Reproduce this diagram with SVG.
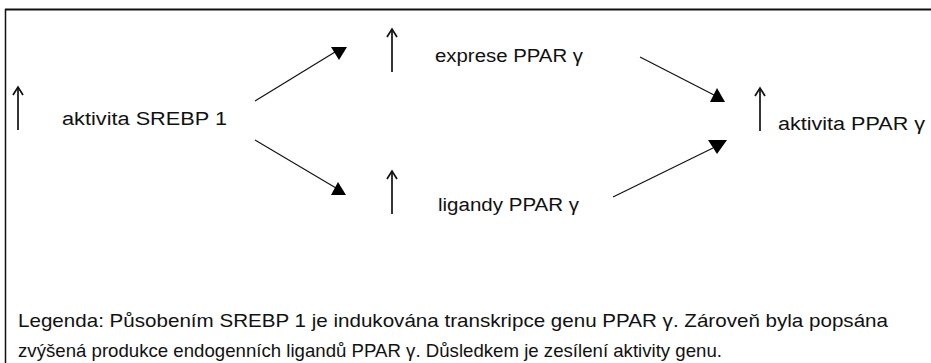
<svg xmlns="http://www.w3.org/2000/svg" width="931" height="363" viewBox="0 0 931 363">
  <style>
    .lbl { font-family: "Liberation Sans", Arial, Helvetica, sans-serif; font-size: 18px; fill: #111; }
    .leg { font-family: "Liberation Sans", Arial, Helvetica, sans-serif; font-size: 19px; fill: #111; }
    .up { stroke: #111; stroke-width: 1.7; fill: none; }
    .con { stroke: #111; stroke-width: 1.2; fill: none; }
    .tri { fill: #000; }
  </style>
  <defs>
    <!-- upward "increase" arrow, drawn from its tip at (0,0) -->
    <g id="upArrow">
      <line class="up" x1="0" y1="1" x2="0" y2="43"/>
      <polyline class="up" points="-5,8 0,0 5,8"/>
    </g>
  </defs>

  <rect width="931" height="363" fill="#fff"/>

  <!-- frame -->
  <g id="frame">
    <line x1="5" y1="9.5" x2="931" y2="9.5" stroke="#111" stroke-width="2"/>
    <line x1="5.5" y1="9" x2="5.5" y2="363" stroke="#111" stroke-width="1.5"/>
  </g>

  <g id="srebp">
    <use href="#upArrow" x="18" y="87"/>
    <text class="lbl" x="62" y="125" textLength="165" lengthAdjust="spacingAndGlyphs">aktivita SREBP 1</text>
  </g>

  <g id="exprese">
    <use href="#upArrow" x="392" y="29"/>
    <text class="lbl" x="435" y="62" textLength="148" lengthAdjust="spacingAndGlyphs">exprese PPAR γ</text>
  </g>

  <g id="ligandy">
    <use href="#upArrow" x="392" y="171"/>
    <text class="lbl" x="438" y="211" textLength="141" lengthAdjust="spacingAndGlyphs">ligandy PPAR γ</text>
  </g>

  <g id="ppar">
    <use href="#upArrow" x="760" y="88"/>
    <text class="lbl" x="778" y="130" textLength="147" lengthAdjust="spacingAndGlyphs">aktivita PPAR γ</text>
  </g>

  <!-- connectors with solid triangle heads -->
  <g id="connectors">
    <line class="con" x1="255" y1="101" x2="335" y2="52"/>
    <polygon class="tri" points="331,47 347,47 339,60"/>

    <line class="con" x1="255" y1="140" x2="336" y2="188"/>
    <polygon class="tri" points="338,182 331,195 346,195"/>

    <line class="con" x1="640" y1="57" x2="714" y2="95"/>
    <polygon class="tri" points="717,88 710,102 725,102"/>

    <line class="con" x1="613" y1="197" x2="713" y2="148"/>
    <polygon class="tri" points="708,140 727,140 717,154"/>
  </g>

  <g id="legend">
    <text class="leg" x="18" y="327" textLength="870" lengthAdjust="spacingAndGlyphs">Legenda: Působením SREBP 1 je indukována transkripce genu PPAR γ. Zároveň byla popsána</text>
    <text class="leg" x="18" y="357" textLength="704" lengthAdjust="spacingAndGlyphs">zvýšená produkce endogenních ligandů PPAR γ. Důsledkem je zesílení aktivity genu.</text>
  </g>
</svg>
